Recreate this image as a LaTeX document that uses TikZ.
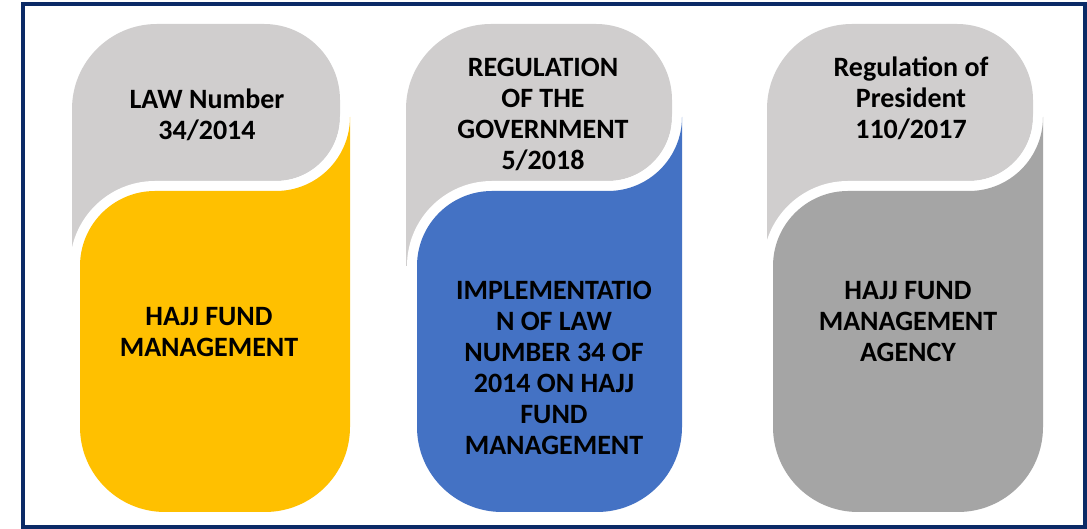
\documentclass[tikz,border=0pt]{standalone}
\usepackage{fontspec}
\setmainfont{Carlito}
\definecolor{lgray}{HTML}{D0CECE}
\definecolor{fyellow}{HTML}{FFC000}
\definecolor{fblue}{HTML}{4472C4}
\definecolor{dgray}{HTML}{A5A5A5}
\definecolor{frameblue}{HTML}{0B2A66}
\newcommand\pillarshape[4]{%
  \fill[lgray] (#1,263) -- (#1,420) arc[start angle=180,end angle=90,radius=85]
    -- ({#2-76},505) arc[start angle=90,end angle=0,radius=76]
    -- (#2,412) arc[start angle=0,end angle=-90,radius=64]
    -- ({#2-64},348) -- ({#3+75},348) -- ({#3+75},263) -- cycle;
  \path[fill=#4,preaction={draw=white,line width=20pt,line join=round}]
    (#3,102) -- (#3,263) arc[start angle=180,end angle=90,radius=75]
    -- ({#2-64},338) arc[start angle=-90,end angle=0,radius=74]
    -- ({#2+10},102) arc[start angle=0,end angle=-90,radius=85]
    -- ({#3+85},17) arc[start angle=270,end angle=180,radius=85] -- cycle;
}
\begin{document}
\begin{tikzpicture}[x=1pt,y=1pt,
  txt/.style={font=\bfseries\fontsize{28}{31}\selectfont,align=center,inner sep=0pt,text=black}]
\useasboundingbox (0,0) rectangle (1087,529);
\pillarshape{72}{340}{80}{fyellow}
\pillarshape{406}{672}{417}{fblue}
\pillarshape{767}{1033}{773}{dgray}
\node[txt] (t1) at (207,414) {LAW Number\\34/2014};
\node[txt] (b1) at (209,197) {HAJJ FUND\\MANAGEMENT};
\node[txt] (t2) at (543,415) {REGULATION\\OF THE\\GOVERNMENT\\5/2018};
\node[txt] (b2) at (554,161) {IMPLEMENTATIO\\N OF LAW\\NUMBER 34 OF\\2014 ON HAJJ\\FUND\\MANAGEMENT};
\node[txt] (t3) at (911,431) {Regulation of\\President\\110/2017};
\node[txt] (b3) at (908,207) {HAJJ FUND\\MANAGEMENT\\AGENCY};
\draw[frameblue,line width=4pt] (23,1.8) rectangle (1085,525);
\end{tikzpicture}
\end{document}
